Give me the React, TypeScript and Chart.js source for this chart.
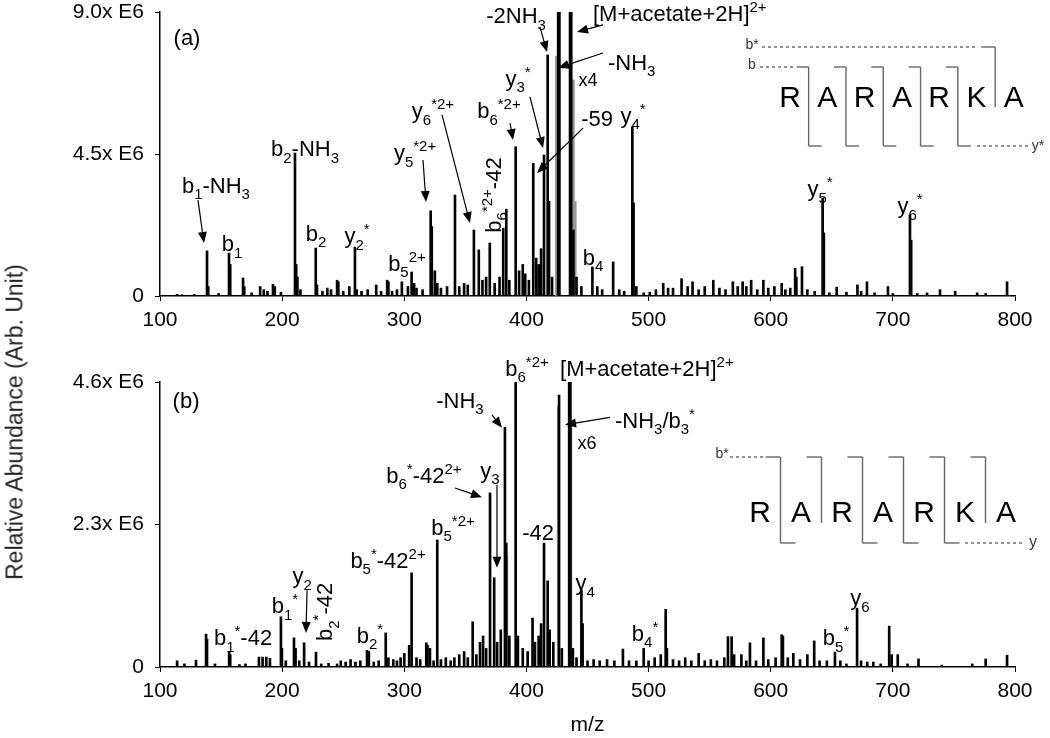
import React, { useEffect, useRef } from "react";
import { Chart, registerables } from "chart.js";
Chart.register(...registerables);

const FONT = '"Liberation Sans", Arial, Helvetica, sans-serif';

// ---------- axes ----------
const xTicks = [100, 200, 300, 400, 500, 600, 700, 800];
const yTicksA = [0, 4.5, 9.0];
const yTickLabelsA = ["0", "4.5x E6", "9.0x E6"];
const yTicksB = [0, 2.3, 4.6];
const yTickLabelsB = ["0", "2.3x E6", "4.6x E6"];

// ---------- spectrum (a), intensity in E6 ----------
const mzA = [114, 118, 128, 138.5, 139.5, 148, 156.5, 157.5, 168, 169, 175, 182, 185, 188, 192.5, 194, 199,
  210.5, 211.5, 212.5, 215, 227.5, 228.5, 233, 237, 240, 245, 246, 250, 255, 259.6, 261, 265, 270, 277, 281,
  286, 287, 290, 294, 298, 303, 306, 308, 310, 315, 321.6, 322.5, 325, 327, 330, 335, 341.5, 345, 349, 352,
  357, 361, 364, 367, 370, 374, 378, 381, 383.5, 386, 391.2, 394, 397, 399, 402, 405.6, 408, 410, 412, 414.4,
  417.4, 418.5, 421, 426, 427, 435.7, 436.7, 438.5, 441, 445, 454, 458, 462, 471, 476, 480, 486.7, 487.7, 490,
  496, 501, 506, 512, 516, 520, 527, 532, 536, 541, 546, 553, 558, 563, 569, 573, 577, 580, 584, 589, 594, 598,
  603, 609, 612, 616, 620, 621, 625.6, 630, 636, 642.5, 643.5, 648, 654, 662, 671, 674, 678.8, 685, 696, 700,
  714, 715, 720, 728, 738.6, 751, 769, 776, 793.5];
const intA = [0.05, 0.04, 0.05, 1.43, 0.3, 0.08, 1.36, 1.0, 0.57, 0.3, 0.1, 0.3, 0.2, 0.15, 0.37, 0.3, 0.12,
  4.53, 1.0, 0.6, 0.2, 1.52, 0.35, 0.15, 0.25, 0.2, 0.5, 0.45, 0.15, 0.3, 1.55, 0.2, 0.15, 0.2, 0.35, 0.15,
  0.5, 0.45, 0.15, 0.2, 0.45, 0.3, 0.76, 0.4, 0.25, 0.2, 2.7, 2.2, 0.8, 0.4, 0.25, 0.3, 3.2, 0.3, 0.4, 0.35,
  2.09, 1.46, 0.5, 0.6, 1.68, 0.4, 0.6, 2.15, 2.75, 0.5, 4.73, 0.8, 1.0, 0.7, 0.5, 4.2, 1.2, 1.0, 1.5, 4.47,
  7.64, 3.0, 0.6, 9.0, 9.0, 9.0, 9.0, 2.09, 0.6, 0.3, 0.92, 0.3, 0.2, 1.08, 0.2, 0.15, 5.36, 2.95, 0.3,
  0.1, 0.12, 0.2, 0.4, 0.25, 0.25, 0.55, 0.3, 0.45, 0.2, 0.3, 0.5, 0.25, 0.2, 0.45, 0.3, 0.45, 0.3, 0.5, 0.2, 0.5, 0.25,
  0.3, 0.4, 0.2, 0.25, 0.88, 0.6, 0.93, 0.2, 0.15, 3.1, 2.0, 0.1, 0.28, 0.12, 0.35, 0.15, 0.45, 0.1, 0.3, 0.08,
  2.57, 1.77, 0.08, 0.1, 0.2, 0.15, 0.1, 0.08, 0.45];
// magnified (x4) trace, grey
const grayMzA = [424.5, 438.5, 440];
const grayIntA = [7.6, 6.85, 3.0];

// ---------- spectrum (b) ----------
const mzB = [114, 120, 129.5, 137.7, 138.5, 145, 156.6, 157.5, 165, 170, 181, 184, 187, 190, 199, 199.8, 203,
  209.7, 211, 214, 218, 222, 227.7, 232, 238, 245, 248, 252, 256, 260, 264, 269.5, 271, 275, 279, 284.8, 287,
  291, 294, 297, 300, 304, 306, 310, 313, 318, 319, 321, 324, 327, 330, 334, 338, 341, 345, 349, 352, 356, 359,
  362, 364.5, 367, 370.2, 373.6, 376, 379, 382.4, 383.5, 386, 391.2, 393, 397, 401, 405, 407, 410, 412, 414.4,
  417.4, 419, 422, 426.7, 429, 435, 436, 438, 441, 445, 446, 450, 455, 460, 466, 472, 479, 484, 490, 496, 500,
  505, 510, 514, 515, 520, 525, 530, 535, 541, 546, 551, 556, 562, 565, 568, 570, 576, 580, 583, 588, 594, 598,
  604, 609, 610, 614, 618.5, 624, 630, 635.6, 640, 646, 652.6, 657, 662, 670.7, 674, 679, 684, 690, 697, 699,
  704, 712, 721, 740, 765, 776, 793.5];
const intB = [0.1, 0.05, 0.11, 0.53, 0.45, 0.05, 0.24, 0.2, 0.04, 0.05, 0.16, 0.16, 0.16, 0.14, 0.81, 0.3, 0.1,
  0.47, 0.3, 0.1, 0.39, 0.08, 0.24, 0.05, 0.06, 0.05, 0.1, 0.08, 0.12, 0.08, 0.1, 0.27, 0.25, 0.08, 0.1, 0.55, 0.15,
  0.12, 0.1, 0.15, 0.22, 0.35, 1.52, 0.15, 0.12, 0.39, 0.35, 0.3, 0.1, 2.05, 0.12, 0.15, 0.1, 0.15, 0.2, 0.25, 0.15, 0.73, 0.2,
  0.4, 0.5, 0.3, 2.81, 1.44, 0.4, 0.6, 3.87, 2.0, 0.5, 4.6, 0.5, 0.3, 0.25, 0.79, 0.4, 0.5, 0.7, 2.0,
  1.39, 0.6, 0.4, 4.39, 0.3, 4.6, 4.6, 0.3, 0.15, 1.24, 0.7, 0.1, 0.12, 0.1, 0.12, 0.1, 0.29, 0.1, 0.1, 0.3, 0.1,
  0.15, 0.2, 0.93, 0.3, 0.12, 0.1, 0.15, 0.1, 0.22, 0.1, 0.12, 0.1, 0.15, 0.49, 0.49, 0.2, 0.2, 0.1, 0.39, 0.1, 0.47, 0.12,
  0.15, 0.52, 0.5, 0.15, 0.22, 0.12, 0.2, 0.42, 0.1, 0.1, 0.24, 0.1, 0.05, 0.95, 0.1, 0.08, 0.08, 0.05, 0.66, 0.2,
  0.2, 0.05, 0.13, 0.03, 0.05, 0.13, 0.19];
// magnified (x6) trace, grey
const grayMzB = [384, 426, 436.5];
const grayIntB = [1.8, 4.2, 3.9];

// ---------- annotations (anchored in m/z, intensity) ----------
const annTextA = ["(a)", "b_{1}-NH_{3}", "b_{1}", "b_{2}-NH_{3}", "b_{2}", "y_{2}^{*}", "b_{5}^{2+}", "y_{5}^{*2+}",
  "y_{6}^{*2+}", "b_{6}^{*2+}", "y_{3}^{*}", "-59", "y_{4}^{*}", "b_{4}", "-2NH_{3}", "[M+acetate+2H]^{2+}", "-NH_{3}",
  "x4", "y_{5}^{*}", "y_{6}^{*}"];
const annMzA = [122.1, 145.8, 158.9, 218.7, 227.7, 261.3, 302.2, 308.8, 323.5, 377.5, 393.1, 457.8, 487.3, 454.5,
  391.5, 454.5, 466.8, 450.4, 640.4, 714.1];
const annIntA = [8.21, 3.52, 1.68, 4.69, 2.0, 1.93, 1.05, 4.56, 5.89, 5.89, 6.91, 5.64, 5.74, 1.24, 8.9, 8.97, 7.42,
  6.85, 3.42, 2.88];
const annAlignA = ["c", "c", "c", "c", "c", "c", "c", "c", "c", "c", "c", "c", "c", "c", "c", "l", "l", "c", "c", "c"];
const annSizeA = [22, 22, 22, 22, 22, 22, 22, 22, 22, 22, 22, 22, 22, 22, 22, 22, 22, 18, 22, 22];
const rotTextA = ["b_{6}^{*2+}-42"];
const rotMzA = [372.6];
const rotIntA = [3.2];
const arrFromMzA = [131.1, 315.3, 330.9, 386.6, 402.9, 446.3, 411.1, 462.7, 462.7];
const arrFromIntA = [3.04, 4.31, 5.74, 5.48, 6.31, 5.32, 8.52, 8.59, 7.7];
const arrToMzA = [136.0, 317.8, 353.8, 389.0, 413.6, 408.7, 416.9, 441.4, 425.9];
const arrToIntA = [1.68, 2.98, 2.31, 4.94, 4.69, 3.9, 7.73, 8.37, 7.23];

const annTextB = ["(b)", "b_{1}^{*}-42", "b_{1}^{*}", "y_{2}", "b_{2}^{*}", "b_{5}^{*}-42^{2+}", "b_{5}^{*2+}",
  "b_{6}^{*}-42^{2+}", "y_{3}", "-NH_{3}", "b_{6}^{*2+}", "[M+acetate+2H]^{2+}", "-NH_{3}/b_{3}^{*}", "x6", "-42",
  "y_{4}", "b_{4}^{*}", "b_{5}^{*}", "y_{6}"];
const annMzB = [121.3, 168.0, 202.3, 216.3, 271.9, 286.7, 339.9, 316.1, 370.2, 345.6, 400.5, 427.5, 472.5, 449.6,
  409.5, 448.0, 497.1, 653.5, 673.1];
const annIntB = [4.31, 0.48, 1.0, 1.48, 0.52, 1.73, 2.26, 3.1, 3.18, 4.31, 4.83, 4.83, 3.99, 3.62, 2.18, 1.37, 0.55,
  0.48, 1.13];
const annAlignB = ["c", "c", "c", "c", "c", "c", "c", "c", "c", "c", "c", "l", "l", "c", "c", "c", "c", "c", "c"];
const annSizeB = [22, 22, 22, 22, 22, 22, 22, 22, 22, 22, 22, 22, 22, 18, 22, 22, 22, 22, 22];
const rotTextB = ["b_{2}^{*}-42"];
const rotMzB = [234.3];
const rotIntB = [0.89];
const arrFromMzB = [220.4, 341.5, 375.9, 371.8, 468.4];
const arrFromIntB = [1.24, 2.89, 2.94, 4.07, 4.03];
const arrToMzB = [219.5, 363.6, 375.9, 380.0, 431.6];
const arrToIntB = [0.55, 2.74, 1.6, 3.86, 3.91];

// ---------- sequence insets ----------
const sequence = ["R", "A", "R", "A", "R", "K", "A"];
const bIonsA = [1, 1, 1, 1, 1, 0];
const bStarA = [0, 0, 0, 0, 0, 1];
const yIonsA = [1, 1, 1, 1, 1, 0];
const bIonsB = [1, 1, 1, 1, 1, 1];
const yIonsB = [1, 0, 1, 1, 1, 0];

// ---------- drawing helpers ----------
type Seg = { t: string; k: "n" | "sub" | "sup" };
function parseRich(s: string): Seg[] {
  const segs: Seg[] = [];
  let cur = "";
  let i = 0;
  while (i < s.length) {
    const c = s[i];
    if ((c === "_" || c === "^") && s[i + 1] === "{") {
      if (cur) { segs.push({ t: cur, k: "n" }); cur = ""; }
      const end = s.indexOf("}", i + 2);
      segs.push({ t: s.slice(i + 2, end), k: c === "_" ? "sub" : "sup" });
      i = end + 1;
    } else { cur += c; i++; }
  }
  if (cur) segs.push({ t: cur, k: "n" });
  return segs;
}

function drawRich(ctx: CanvasRenderingContext2D, s: string, x: number, y: number, align: string, size: number) {
  const segs = parseRich(s);
  const small = Math.round(size * 0.68);
  const widths = segs.map((sg) => {
    ctx.font = `${sg.k === "n" ? size : small}px ${FONT}`;
    return ctx.measureText(sg.t).width;
  });
  const w = widths.reduce((a, b) => a + b, 0);
  let cx = align === "l" ? x : align === "r" ? x - w : x - w / 2;
  const base = y + size * 0.36;
  ctx.textAlign = "left";
  ctx.textBaseline = "alphabetic";
  segs.forEach((sg, k) => {
    ctx.font = `${sg.k === "n" ? size : small}px ${FONT}`;
    const dy = sg.k === "sub" ? size * 0.3 : sg.k === "sup" ? -size * 0.4 : 0;
    ctx.fillText(sg.t, cx, base + dy);
    cx += widths[k];
  });
}

function drawArrow(ctx: CanvasRenderingContext2D, x1: number, y1: number, x2: number, y2: number) {
  const a = Math.atan2(y2 - y1, x2 - x1);
  const hl = 11, hw = 4.5;
  ctx.beginPath();
  ctx.moveTo(x1, y1);
  ctx.lineTo(x2 - Math.cos(a) * hl * 0.8, y2 - Math.sin(a) * hl * 0.8);
  ctx.stroke();
  ctx.beginPath();
  ctx.moveTo(x2, y2);
  ctx.lineTo(x2 - hl * Math.cos(a) + hw * Math.sin(a), y2 - hl * Math.sin(a) - hw * Math.cos(a));
  ctx.lineTo(x2 - hl * Math.cos(a) - hw * Math.sin(a), y2 - hl * Math.sin(a) + hw * Math.cos(a));
  ctx.closePath();
  ctx.fill();
}

function hline(ctx: CanvasRenderingContext2D, x1: number, x2: number, y: number, dashed = false) {
  ctx.setLineDash(dashed ? [3, 3] : []);
  ctx.beginPath(); ctx.moveTo(x1, y); ctx.lineTo(x2, y); ctx.stroke();
  ctx.setLineDash([]);
}
function vline(ctx: CanvasRenderingContext2D, x: number, y1: number, y2: number) {
  ctx.beginPath(); ctx.moveTo(x, y1); ctx.lineTo(x, y2); ctx.stroke();
}

function drawSeqA(ctx: CanvasRenderingContext2D, R: number, T: number) {
  const pitch = 37.3;
  const x0 = R - 225;
  const lx = sequence.map((_, i) => x0 + i * pitch);
  ctx.fillStyle = "#000";
  ctx.font = `30px ${FONT}`;
  ctx.textAlign = "center";
  ctx.textBaseline = "middle";
  sequence.forEach((s, i) => ctx.fillText(s, lx[i], T + 87));
  ctx.strokeStyle = "#666";
  ctx.lineWidth = 1.4;
  const yb = T + 55, yy = T + 134, ybs = T + 35;
  for (let i = 0; i < sequence.length - 1; i++) {
    const sx = (lx[i] + lx[i + 1]) / 2;
    if (bIonsA[i]) { hline(ctx, sx - 12, sx, yb); vline(ctx, sx, yb, yy); }
    if (yIonsA[i]) hline(ctx, sx, sx + 13, yy);
    if (bStarA[i]) { hline(ctx, sx - 14, sx, ybs); vline(ctx, sx, ybs, T + 95); }
  }
  const s0 = (lx[0] + lx[1]) / 2;
  hline(ctx, R - 255, s0 - 14, yb, true);
  const sLast = (lx[5] + lx[6]) / 2;
  hline(ctx, R - 253, sLast - 18, ybs, true);
  hline(ctx, R - 38, R + 15, yy, true);
  ctx.fillStyle = "#333";
  ctx.font = `14px ${FONT}`;
  ctx.textAlign = "center";
  ctx.fillText("b", R - 263, yb - 2);
  ctx.fillText("b*", R - 263, ybs - 2);
  ctx.fillText("y*", R + 23, yy);
}

function drawSeqB(ctx: CanvasRenderingContext2D, R: number, T: number) {
  const pitch = 41;
  const x0 = R - 255;
  const lx = sequence.map((_, i) => x0 + i * pitch);
  ctx.fillStyle = "#000";
  ctx.font = `30px ${FONT}`;
  ctx.textAlign = "center";
  ctx.textBaseline = "middle";
  sequence.forEach((s, i) => ctx.fillText(s, lx[i], T + 132));
  ctx.strokeStyle = "#666";
  ctx.lineWidth = 1.4;
  const yt = T + 75, yy = T + 161;
  for (let i = 0; i < sequence.length - 1; i++) {
    const sx = (lx[i] + lx[i + 1]) / 2;
    if (bIonsB[i]) hline(ctx, sx - 15, sx, yt);
    vline(ctx, sx, yt, yIonsB[i] ? yy : T + 141);
    if (yIonsB[i]) hline(ctx, sx, sx + 15, yy);
  }
  const s0 = (lx[0] + lx[1]) / 2;
  hline(ctx, R - 285, s0 - 16, yt, true);
  hline(ctx, R - 50, R + 10, yy, true);
  ctx.fillStyle = "#333";
  ctx.font = `14px ${FONT}`;
  ctx.textAlign = "center";
  ctx.fillText("b*", R - 293, yt - 3);
  ctx.font = `16px ${FONT}`;
  ctx.fillText("y", R + 18, yy);
}

const annotPlugin = {
  id: "specAnnot",
  afterDraw(chart: any, _args: any, opts: any) {
    const ctx: CanvasRenderingContext2D = chart.ctx;
    const xs = chart.scales.x, ys = chart.scales.y;
    ctx.save();
    ctx.fillStyle = "#000";
    ctx.strokeStyle = "#000";
    ctx.lineWidth = 1.2;
    opts.text.forEach((t: string, i: number) => {
      drawRich(ctx, t, xs.getPixelForValue(opts.mz[i]), ys.getPixelForValue(opts.int[i]), opts.align[i], opts.size[i]);
    });
    opts.rotText.forEach((t: string, i: number) => {
      ctx.save();
      ctx.translate(xs.getPixelForValue(opts.rotMz[i]), ys.getPixelForValue(opts.rotInt[i]));
      ctx.rotate(-Math.PI / 2);
      drawRich(ctx, t, 0, 0, "c", 22);
      ctx.restore();
    });
    opts.arrFromMz.forEach((_: number, i: number) => {
      drawArrow(ctx,
        xs.getPixelForValue(opts.arrFromMz[i]), ys.getPixelForValue(opts.arrFromInt[i]),
        xs.getPixelForValue(opts.arrToMz[i]), ys.getPixelForValue(opts.arrToInt[i]));
    });
    const ca = chart.chartArea;
    if (opts.panel === "a") drawSeqA(ctx, ca.right, ca.top);
    else drawSeqB(ctx, ca.right, ca.top);
    ctx.restore();
  },
};

function makeConfig(panel: "a" | "b") {
  const isA = panel === "a";
  const mz = isA ? mzA : mzB;
  const it = isA ? intA : intB;
  const gmz = isA ? grayMzA : grayMzB;
  const git = isA ? grayIntA : grayIntB;
  const yt = isA ? yTicksA : yTicksB;
  const ytl = isA ? yTickLabelsA : yTickLabelsB;
  const tickFont = { family: FONT, size: 21 };
  return {
    type: "bar",
    data: {
      datasets: [
        {
          data: mz.map((m, i) => ({ x: m, y: it[i] })),
          backgroundColor: "#000",
          barThickness: 2,
          grouped: false,
          order: 1,
        },
        {
          data: gmz.map((m, i) => ({ x: m, y: git[i] })),
          backgroundColor: "#9a9a9a",
          barThickness: 2,
          grouped: false,
          order: 2,
        },
      ],
    },
    options: {
      animation: false,
      responsive: false,
      maintainAspectRatio: false,
      layout: { padding: { left: 0, right: 35, top: isA ? 12 : 37, bottom: 0 } },
      plugins: {
        legend: { display: false },
        tooltip: { enabled: false },
        specAnnot: {
          panel,
          text: isA ? annTextA : annTextB,
          mz: isA ? annMzA : annMzB,
          int: isA ? annIntA : annIntB,
          align: isA ? annAlignA : annAlignB,
          size: isA ? annSizeA : annSizeB,
          rotText: isA ? rotTextA : rotTextB,
          rotMz: isA ? rotMzA : rotMzB,
          rotInt: isA ? rotIntA : rotIntB,
          arrFromMz: isA ? arrFromMzA : arrFromMzB,
          arrFromInt: isA ? arrFromIntA : arrFromIntB,
          arrToMz: isA ? arrToMzA : arrToMzB,
          arrToInt: isA ? arrToIntA : arrToIntB,
        },
      },
      scales: {
        x: {
          type: "linear",
          min: 100,
          max: 800,
          offset: false,
          afterBuildTicks: (s: any) => { s.ticks = xTicks.map((v) => ({ value: v })); },
          afterFit: (s: any) => { s.height = isA ? 49 : 71; s.paddingLeft = 0; s.paddingRight = 0; },
          ticks: { font: tickFont, color: "#000", padding: 7, maxRotation: 0, autoSkip: false, callback: (v: any) => String(v) },
          grid: { display: true, drawOnChartArea: false, drawTicks: true, tickLength: 5, color: "#000", lineWidth: 1, offset: false },
          border: { display: true, color: "#000", width: 1.5 },
          title: isA ? { display: false } : { display: true, text: "m/z", font: { family: FONT, size: 21 }, color: "#000", padding: { top: 4, bottom: 0 } },
        },
        y: {
          min: 0,
          max: yt[yt.length - 1],
          afterBuildTicks: (s: any) => { s.ticks = yt.map((v) => ({ value: v })); },
          afterFit: (s: any) => { s.width = 160; s.paddingTop = 0; s.paddingBottom = 0; },
          ticks: {
            font: { family: FONT, size: 21, lineHeight: 1 },
            color: "#000",
            padding: 11,
            callback: (v: any) => ytl[yt.indexOf(v)] ?? "",
          },
          grid: { display: true, drawOnChartArea: false, drawTicks: true, tickLength: 5, color: "#000", lineWidth: 1 },
          border: { display: true, color: "#000", width: 1.5 },
        },
      },
    },
    plugins: [annotPlugin],
  };
}

export default function App() {
  const refA = useRef<HTMLCanvasElement>(null);
  const refB = useRef<HTMLCanvasElement>(null);
  useEffect(() => {
    const ca = new Chart(refA.current as HTMLCanvasElement, makeConfig("a") as any);
    const cb = new Chart(refB.current as HTMLCanvasElement, makeConfig("b") as any);
    return () => { ca.destroy(); cb.destroy(); };
  }, []);
  return (
    <div style={{ position: "fixed", left: 0, top: 0, width: 1050, height: 738, background: "#fff", overflow: "hidden" }}>
      <canvas ref={refA} width={1050} height={345} style={{ position: "absolute", left: 0, top: 0 }} />
      <canvas ref={refB} width={1050} height={393} style={{ position: "absolute", left: 0, top: 345 }} />
      <div
        style={{
          position: "absolute",
          left: 15,
          top: 422,
          transform: "translate(-50%, -50%) rotate(-90deg)",
          whiteSpace: "nowrap",
          fontFamily: FONT,
          fontSize: 23,
          color: "#222",
        }}
      >
        Relative Abundance (Arb. Unit)
      </div>
    </div>
  );
}
